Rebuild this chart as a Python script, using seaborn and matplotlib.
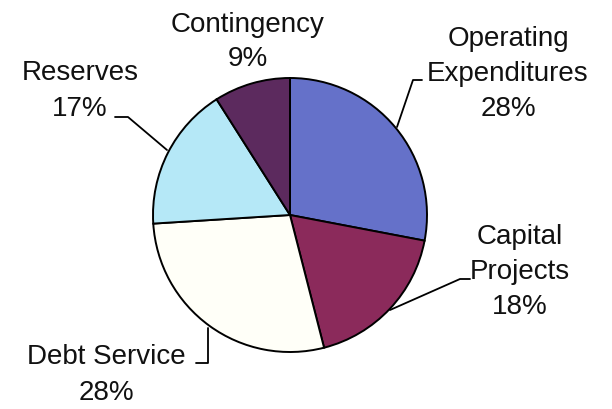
import matplotlib
matplotlib.use("Agg")
import matplotlib.pyplot as plt
import seaborn as sns

categories = ["Operating\nExpenditures", "Capital\nProjects", "Debt Service", "Reserves", "Contingency"]
values = [28, 18, 28, 17, 9]
colors = ["#6571C9", "#8B2A5B", "#FFFFF8", "#B5E8F7", "#5C2A5E"]

sns.set_theme(style="white")
plt.rcParams['font.family'] = ['Liberation Sans', 'DejaVu Sans']

W, H = 612, 409
fig = plt.figure(figsize=(W / 100, H / 100), dpi=100)
ax = fig.add_axes([0, 0, 1, 1])

def Y(y):
    return H - y

cx, cy, r = 290, 215, 137
ax.pie(values, colors=colors, startangle=90, counterclock=False,
       center=(cx, Y(cy)), radius=r,
       wedgeprops=dict(edgecolor="black", linewidth=1.4))
ax.set_xlim(0, W)
ax.set_ylim(0, H)
ax.set_aspect("equal")
ax.axis("off")

fs = 20
labels = [
    (508, 74, f"{categories[0]}\n{values[0]}%", [(397, 127), (413, 80), (422, 80)]),
    (520, 272, f"{categories[1]}\n{values[1]}%", [(390, 310), (460, 279), (470, 279)]),
    (106, 375, f"{categories[2]}\n{values[2]}%", [(208, 328), (208, 363), (196, 363)]),
    (80, 91, f"{categories[3]}\n{values[3]}%", [(167, 150), (128, 117), (115, 117)]),
    (248, 42, f"{categories[4]}\n{values[4]}%", None),
]
for x, y, txt, line in labels:
    ax.text(x, Y(y), txt, ha="center", va="center", fontsize=fs,
            linespacing=1.45, color="#111111")
    if line:
        xs = [p[0] for p in line]
        ys = [Y(p[1]) for p in line]
        ax.plot(xs, ys, color="black", linewidth=1.3)

fig.savefig("out.png", dpi=100)
